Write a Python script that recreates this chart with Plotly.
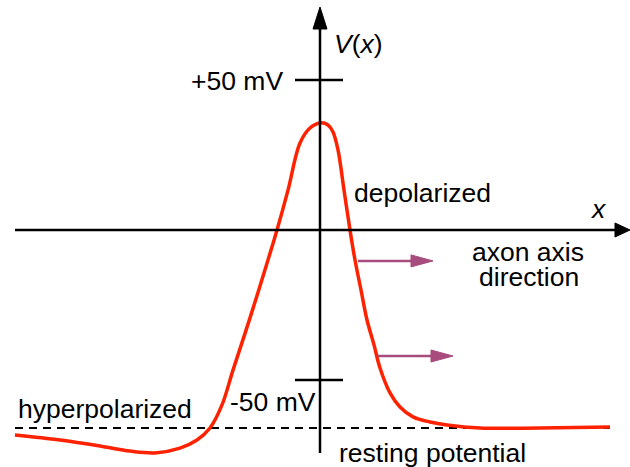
import plotly.graph_objects as go

# ---- data (x: distance along axon, arbitrary units; V in mV) ----
pos_x = [-305, -260, -220, -190, -165, -140, -123, -110, -98, -87, -70, -52, -43, -32, -20, -10,
         0, 8, 13, 18, 24, 30, 35, 41, 47, 54, 60, 70, 80, 93, 110, 127, 160, 220, 290]
volt = [-68.3, -70, -72, -73.7, -74.3, -72.7, -70, -66, -58.3, -46.7, -29.3, -10, 0, 13.3, 29, 34,
        35.7, 35, 32.7, 26.7, 13.3, 0, -10, -20, -30, -38.3, -46, -54.3, -59, -62.3, -64, -65, -66, -66, -65.7]
tick_values = [50, -50]
tick_labels = ["+50 mV", "-50 mV"]
resting_v = -66
arrow_starts = [38, 58]
arrow_ends = [113, 133]
arrow_levels = [-10.3, -42]

XMIN, XMAX = -320, 310
YMIN, YMAX = -79, 230 / 3
PXY = 1 / 3  # mV per pixel vertically

FONT = "Liberation Sans, Arial, Helvetica, sans-serif"
FS = 26.5
RED = "#FF2200"
PURPLE = "#A84B7D"

fig = go.Figure()
fig.add_trace(go.Scatter(x=pos_x, y=volt, mode="lines",
                         line=dict(color=RED, width=3.5, shape="spline", smoothing=1.0),
                         hoverinfo="skip"))

shapes = []
# resting potential dashed line
shapes.append(dict(type="line", x0=-305, x1=290, y0=resting_v, y1=resting_v,
                   line=dict(color="black", width=2, dash="8px,6px"), layer="below"))
# x axis with arrow
shapes.append(dict(type="line", x0=-305, x1=296, y0=0, y1=0, line=dict(color="black", width=2.5)))
shapes.append(dict(type="path", path=f"M 295,{7*PXY} L 310,0 L 295,{-7*PXY} Z",
                   fillcolor="black", line=dict(color="black", width=1)))
# y axis with arrow
shapes.append(dict(type="line", x0=0, x1=0, y0=-(453 - 230) * PXY, y1=(230 - 28) * PXY,
                   line=dict(color="black", width=2.5)))
shapes.append(dict(type="path",
                   path=f"M -7,{(230-29)*PXY} L 0,{(230-7)*PXY} L 7,{(230-29)*PXY} Z",
                   fillcolor="black", line=dict(color="black", width=1)))
# ticks
for tv in tick_values:
    shapes.append(dict(type="line", x0=-25, x1=23, y0=tv, y1=tv, line=dict(color="black", width=2.5)))
# purple arrows
for xs, xe, lv in zip(arrow_starts, arrow_ends, arrow_levels):
    shapes.append(dict(type="line", x0=xs, x1=xe - 20, y0=lv, y1=lv, line=dict(color=PURPLE, width=2.5)))
    shapes.append(dict(type="path",
                       path=f"M {xe-22},{lv+6*PXY} L {xe},{lv} L {xe-22},{lv-6*PXY} Z",
                       fillcolor=PURPLE, line=dict(color=PURPLE, width=1)))

def px_v(py):
    return (230 - py) * PXY

def ann(text, x, y, xanchor="left"):
    return dict(text=text, x=x, y=y, xref="x", yref="y", xanchor=xanchor, yanchor="middle",
                showarrow=False, borderpad=0, font=dict(family=FONT, size=FS, color="black"))

annotations = [
    ann(tick_labels[0], 284 - 320, px_v(81), "right"),
    ann(tick_labels[1], 229 - 320, px_v(402), "left"),
    ann("<i>V</i>(<i>x</i>)", 333 - 320, px_v(44), "left"),
    ann("depolarized", 353 - 320, px_v(193), "left"),
    ann("<i>x</i>", 598 - 320, px_v(209), "center"),
    ann("axon axis", 528 - 320, px_v(252), "center"),
    ann("direction", 529 - 320, px_v(277), "center"),
    ann("hyperpolarized", 17 - 320, px_v(409), "left"),
    ann("resting potential", 338 - 320, px_v(453), "left"),
]

fig.update_layout(
    width=630, height=467,
    margin=dict(l=0, r=0, t=0, b=0),
    paper_bgcolor="white", plot_bgcolor="white",
    showlegend=False,
    xaxis=dict(range=[XMIN, XMAX], visible=False, fixedrange=True),
    yaxis=dict(range=[YMIN, YMAX], visible=False, fixedrange=True),
    shapes=shapes,
    annotations=annotations,
)

fig.write_html("out.html", config={"displayModeBar": False},
               post_script="document.body.style.margin='0';document.body.style.padding='0';")
